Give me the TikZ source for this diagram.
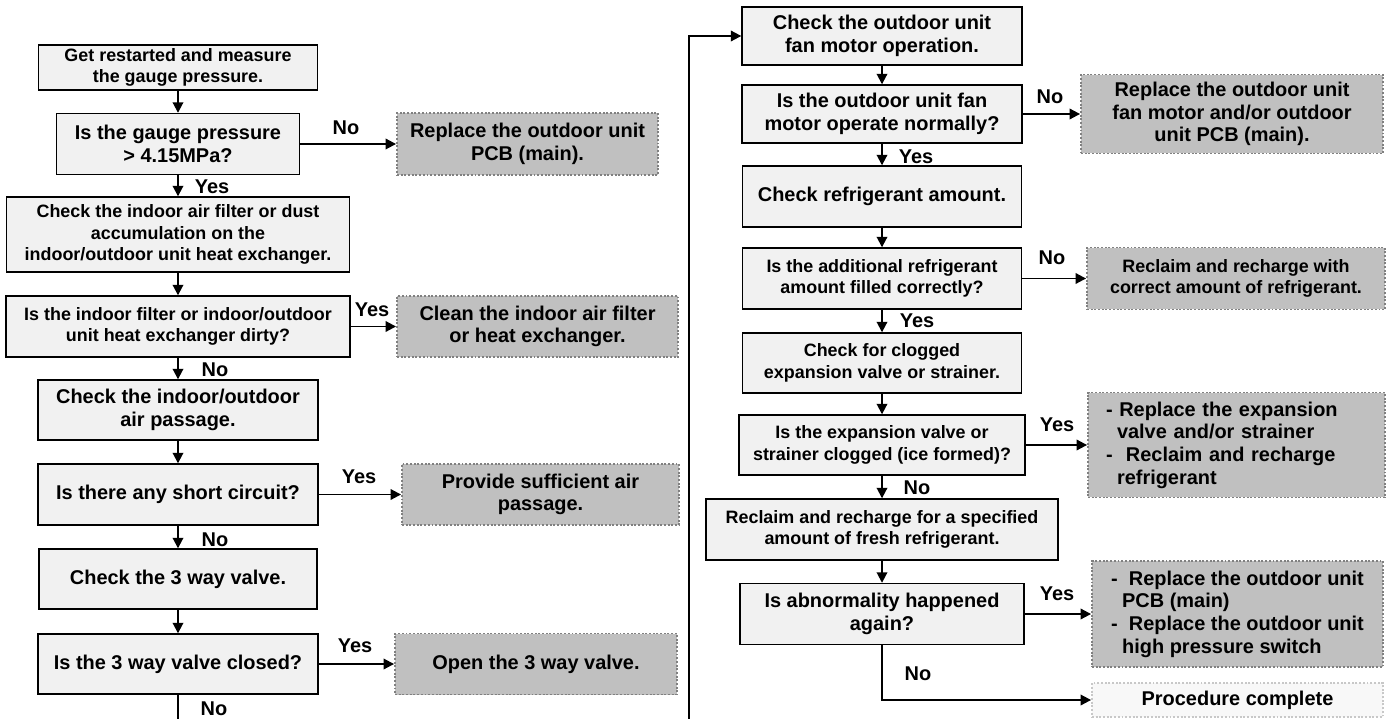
\documentclass[tikz,border=0pt]{standalone}
\usepackage{fontspec}
\setmainfont{Liberation Sans}
\usetikzlibrary{arrows.meta}
\definecolor{boxgray}{RGB}{241,241,241}
\definecolor{actgray}{RGB}{192,192,192}
\definecolor{dotgray}{RGB}{128,128,128}
\definecolor{finfill}{RGB}{248,248,248}
\definecolor{fingray}{RGB}{200,200,200}
\tikzset{
  blk/.style={draw=black,line width=0.8pt,fill=boxgray,align=center,
    font=\bfseries\fontsize{11.35}{12.9}\selectfont,inner sep=2pt},
  sm/.style={font=\bfseries\fontsize{10.2}{12.2}\selectfont},
  act/.style={draw=dotgray,line width=1.1pt,dash pattern=on 1.1pt off 1pt,fill=actgray,
    align=center,font=\bfseries\fontsize{11.35}{12.9}\selectfont,inner sep=2pt},
  fin/.style={act,draw=fingray,fill=finfill},
  lbl/.style={font=\bfseries\fontsize{11.35}{12.9}\selectfont,inner sep=0pt},
  fl/.style={-{Triangle[length=6pt,width=6pt]},line width=1.1pt},
  ln/.style={line width=1.1pt},
}
\begin{document}
\begin{tikzpicture}[x=0.02cm,y=-0.02cm]
\useasboundingbox (0,0) rectangle (1391,719);
% left column
\node[blk,sm,minimum width=5.58cm,minimum height=0.86cm] (n1) at (178,67.5) {Get restarted and measure\\the gauge pressure.};
\node[blk,minimum width=4.86cm,minimum height=1.22cm] (n2) at (178,144) {Is the gauge pressure\\> 4.15MPa?};
\node[act,minimum width=5.22cm,minimum height=1.24cm] (r1) at (527.5,144) {Replace the outdoor unit\\PCB (main).};
\node[blk,sm,minimum width=6.86cm,minimum height=1.5cm] (n3) at (178,234.5) {Check the indoor air filter or dust\\accumulation on the\\indoor/outdoor unit heat exchanger.};
\node[blk,sm,minimum width=6.88cm,minimum height=1.22cm] (n4) at (178,326.5) {Is the indoor filter or indoor/outdoor\\unit heat exchanger dirty?};
\node[act,minimum width=5.62cm,minimum height=1.22cm] (r2) at (537.5,326.5) {Clean the indoor air filter\\or heat exchanger.};
\node[blk,minimum width=5.6cm,minimum height=1.2cm] (n5) at (178,410) {Check the indoor/outdoor\\air passage.};
\node[blk,minimum width=5.6cm,minimum height=1.22cm] (n6) at (178,494.5) {Is there any short circuit?};
\node[act,minimum width=5.54cm,minimum height=1.22cm] (r3) at (540.5,494.5) {Provide sufficient air\\passage.};
\node[blk,minimum width=5.56cm,minimum height=1.2cm] (n7) at (178,579) {Check the 3 way valve.};
\node[blk,minimum width=5.6cm,minimum height=1.2cm] (n8) at (178,664) {Is the 3 way valve closed?};
\node[act,minimum width=5.64cm,minimum height=1.22cm] (r4) at (536,664) {Open the 3 way valve.};
\coordinate (nb) at (178,719);
\coordinate (lb) at (689,719);
% right column
\node[blk,minimum width=5.6cm,minimum height=1.16cm] (m1) at (882,36) {Check the outdoor unit\\fan motor operation.};
\node[blk,minimum width=5.6cm,minimum height=1.16cm] (m2) at (882,114) {Is the outdoor unit fan\\motor operate normally?};
\node[act,minimum width=6.04cm,minimum height=1.58cm] (q1) at (1232,114) {Replace the outdoor unit\\fan motor and/or outdoor\\unit PCB (main).};
\node[blk,minimum width=5.58cm,minimum height=1.22cm] (m3) at (882,196.5) {Check refrigerant amount.};
\node[blk,sm,minimum width=5.58cm,minimum height=1.22cm] (m4) at (882,278.5) {Is the additional refrigerant\\amount filled correctly?};
\node[act,sm,minimum width=5.96cm,minimum height=1.24cm] (q2) at (1236,278.5) {Reclaim and recharge with\\correct amount of refrigerant.};
\node[blk,sm,minimum width=5.58cm,minimum height=1.2cm] (m5) at (882,363) {Check for clogged\\expansion valve or strainer.};
\node[blk,sm,minimum width=5.72cm,minimum height=1.2cm] (m6) at (882,445) {Is the expansion valve or\\strainer clogged (ice formed)?};
\node[act,minimum width=5.94cm,minimum height=2.1cm,text width=5.22cm,align=left] (q3) at (1236.5,445)
  {-\ Replace the expansion\\\hspace*{0.55em}valve and/or strainer\\-\ \ Reclaim and recharge\\\hspace*{0.55em}refrigerant};
\node[blk,sm,minimum width=7.04cm,minimum height=1.22cm] (m7) at (882,529.5) {Reclaim and recharge for a specified\\amount of fresh refrigerant.};
\node[blk,minimum width=5.68cm,minimum height=1.22cm] (m8) at (882,614) {Is abnormality happened\\again?};
\node[act,minimum width=5.82cm,minimum height=2.12cm,align=left] (q4) at (1237.5,614)
  {-\ \ Replace the outdoor unit\\\hspace*{0.55em}PCB (main)\\-\ \ Replace the outdoor unit\\\hspace*{0.55em}high pressure switch};
\node[fin,minimum width=5.82cm,minimum height=0.68cm] (q5) at (1237.5,700) {Procedure complete};
% labels
\node[lbl] (y1) at (346,128) {No};
\node[lbl] (y2) at (212,187) {Yes};
\node[lbl] (y3) at (372,310) {Yes};
\node[lbl] (y4) at (215,370) {No};
\node[lbl] (y5) at (359,477) {Yes};
\node[lbl] (y6) at (215,540) {No};
\node[lbl] (y7) at (355,646) {Yes};
\node[lbl] (y8) at (214,709) {No};
\node[lbl] (z1) at (1050,97) {No};
\node[lbl] (z2) at (916,157) {Yes};
\node[lbl] (z3) at (1052,258) {No};
\node[lbl] (z4) at (917,321) {Yes};
\node[lbl] (z5) at (1057,425) {Yes};
\node[lbl] (z6) at (917,488) {No};
\node[lbl] (z7) at (1057,594) {Yes};
\node[lbl] (z8) at (918,674) {No};
% connectors
\draw[fl] (n1) -- (n2);
\draw[fl] (n2) -- (n3);
\draw[fl] (n3) -- (n4);
\draw[fl] (n4) -- (n5);
\draw[fl] (n5) -- (n6);
\draw[fl] (n6) -- (n7);
\draw[fl] (n7) -- (n8);
\draw[fl] (n2) -- (r1);
\draw[fl] (n4) -- (r2);
\draw[fl] (n6) -- (r3);
\draw[fl] (n8) -- (r4);
\draw[ln] (n8) -- (nb);
\draw[fl] (lb) |- (m1);
\draw[fl] (m1) -- (m2);
\draw[fl] (m2) -- (m3);
\draw[fl] (m3) -- (m4);
\draw[fl] (m4) -- (m5);
\draw[fl] (m5) -- (m6);
\draw[fl] (m6) -- (m7);
\draw[fl] (m7) -- (m8);
\draw[fl] (m2) -- (q1);
\draw[fl] (m4) -- (q2);
\draw[fl] (m6) -- (q3);
\draw[fl] (m8) -- (q4);
\draw[fl] (m8) |- (q5);
\end{tikzpicture}
\end{document}
